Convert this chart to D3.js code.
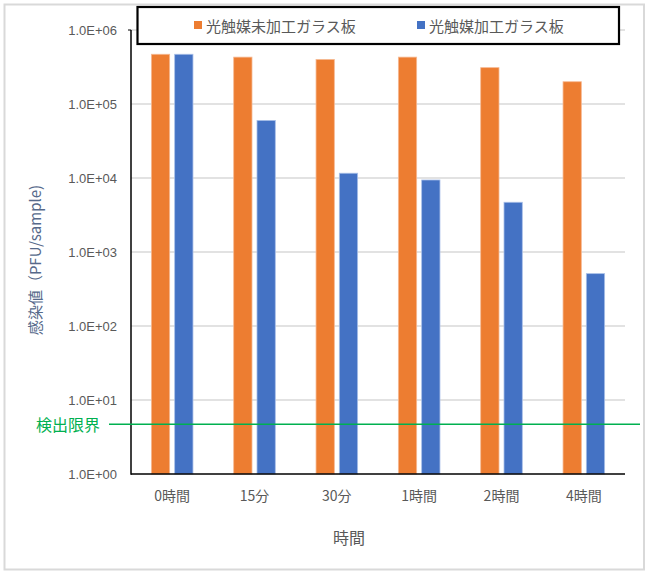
<!DOCTYPE html>
<html>
<head>
<meta charset="utf-8">
<script src="https://cdn.jsdelivr.net/npm/d3@7"></script>
<style>
  html, body { margin: 0; padding: 0; background: #fff; }
  svg { display: block; }
  text { font-family: "Noto Sans CJK JP", "Noto Sans", sans-serif; }
</style>
</head>
<body>
<svg id="chart" width="648" height="574"></svg>
<script>
// ---- data ----
const categories = ["0時間", "15分", "30分", "1時間", "2時間", "4時間"];
const seriesNames = ["光触媒未加工ガラス板", "光触媒加工ガラス板"];
const untreated = [4.7e5, 4.3e5, 4.0e5, 4.3e5, 3.1e5, 2.0e5];
const treated   = [4.7e5, 6.0e4, 1.16e4, 9.4e3, 4.7e3, 510];
const tickValues = [1, 10, 100, 1000, 10000, 100000, 1000000];
const tickLabels = ["1.0E+00", "1.0E+01", "1.0E+02", "1.0E+03", "1.0E+04", "1.0E+05", "1.0E+06"];
const detectionLimit = 4.7;
const detectionLabel = "検出限界";
const xTitle = "時間";
const yTitle = "感染値（PFU/sample)";
const colors = ["#ED7D31", "#4472C4"];
const edgeColors = ["#F6B993", "#A8BFE8"];

const svg = d3.select("#chart");

// outer frame
svg.append("rect").attr("x", 4.5).attr("y", 4.5).attr("width", 639.5).attr("height", 565)
  .attr("fill", "#fff").attr("stroke", "#D9D9D9").attr("stroke-width", 2);

const plot = { left: 131, right: 625, top: 30, bottom: 474 };

const x0 = d3.scaleBand().domain(categories).range([plot.left, plot.right]).padding(0);
const x1 = d3.scaleBand().domain(seriesNames).range([0, x0.bandwidth()])
  .paddingInner(0.2146).paddingOuter(0.874);
const y = d3.scaleLog().domain([1, 1e6]).range([plot.bottom, plot.top]);

// gridlines
svg.append("g").selectAll("line").data(tickValues.slice(1)).join("line")
  .attr("x1", plot.left).attr("x2", plot.right)
  .attr("y1", d => y(d)).attr("y2", d => y(d))
  .attr("stroke", "#D9D9D9").attr("stroke-width", 1.5);

// y-axis tick labels
const yAxis = d3.axisLeft(y).tickValues(tickValues)
  .tickFormat((d, i) => tickLabels[i]).tickSize(0).tickPadding(14);
const gy = svg.append("g").attr("transform", `translate(${plot.left},0)`).call(yAxis);
gy.select(".domain").remove();
gy.selectAll("text").attr("fill", "#595959").style("font-size", "13px")
  .style("font-family", "'Liberation Sans', Arial, sans-serif");

// bars
const seriesData = [untreated, treated];
const groups = svg.append("g").selectAll("g").data(categories).join("g")
  .attr("transform", d => `translate(${x0(d)},0)`);
groups.selectAll("rect").data((c, ci) => seriesNames.map((s, si) => ({ s, si, v: seriesData[si][ci] })))
  .join("rect")
  .attr("x", d => x1(d.s))
  .attr("width", x1.bandwidth())
  .attr("y", d => y(d.v))
  .attr("height", d => plot.bottom - y(d.v))
  .attr("fill", d => colors[d.si])
  .attr("stroke", d => edgeColors[d.si]).attr("stroke-width", 0.8);

// axis lines
svg.append("line").attr("x1", plot.left).attr("x2", plot.left)
  .attr("y1", plot.top).attr("y2", plot.bottom + 0.75)
  .attr("stroke", "#000").attr("stroke-width", 1.5);
svg.append("line").attr("x1", plot.left - 3).attr("x2", plot.left)
  .attr("y1", plot.top).attr("y2", plot.top)
  .attr("stroke", "#000").attr("stroke-width", 1);
svg.append("line").attr("x1", plot.left).attr("x2", plot.right)
  .attr("y1", plot.bottom).attr("y2", plot.bottom)
  .attr("stroke", "#000").attr("stroke-width", 1.5);

// x-axis labels
const xAxis = d3.axisBottom(x0).tickSize(0).tickPadding(17);
const gx = svg.append("g").attr("transform", `translate(0,${plot.bottom})`).call(xAxis);
gx.select(".domain").remove();
gx.selectAll("text").attr("fill", "#595959").style("font-size", "14px");

// detection limit line
svg.append("line").attr("x1", 109).attr("x2", 640)
  .attr("y1", y(detectionLimit)).attr("y2", y(detectionLimit))
  .attr("stroke", "#00B050").attr("stroke-width", 1.5);
svg.append("text").attr("x", 100).attr("y", y(detectionLimit))
  .attr("text-anchor", "end").attr("dominant-baseline", "central")
  .attr("fill", "#00B050").style("font-size", "16px").text(detectionLabel);

// axis titles
svg.append("text").attr("x", 349).attr("y", 537)
  .attr("text-anchor", "middle").attr("dominant-baseline", "central")
  .attr("fill", "#595959").style("font-size", "16px").text(xTitle);
svg.append("text")
  .attr("transform", `translate(34,260) rotate(-90)`)
  .attr("text-anchor", "middle").attr("dominant-baseline", "central")
  .attr("fill", "#56698A").style("font-size", "15px").text(yTitle);

// legend
const lg = svg.append("g");
lg.append("rect").attr("x", 137.5).attr("y", 7).attr("width", 481.5).attr("height", 37)
  .attr("fill", "#fff").attr("stroke", "#000").attr("stroke-width", 2.2);
const legendX = [194, 417];
seriesNames.forEach((s, i) => {
  lg.append("rect").attr("x", legendX[i]).attr("y", 21).attr("width", 8).attr("height", 8)
    .attr("fill", colors[i]);
  lg.append("text").attr("x", legendX[i] + 12).attr("y", 25)
    .attr("dominant-baseline", "central")
    .attr("fill", "#595959").style("font-size", "15px").text(s);
});
</script>
</body>
</html>
